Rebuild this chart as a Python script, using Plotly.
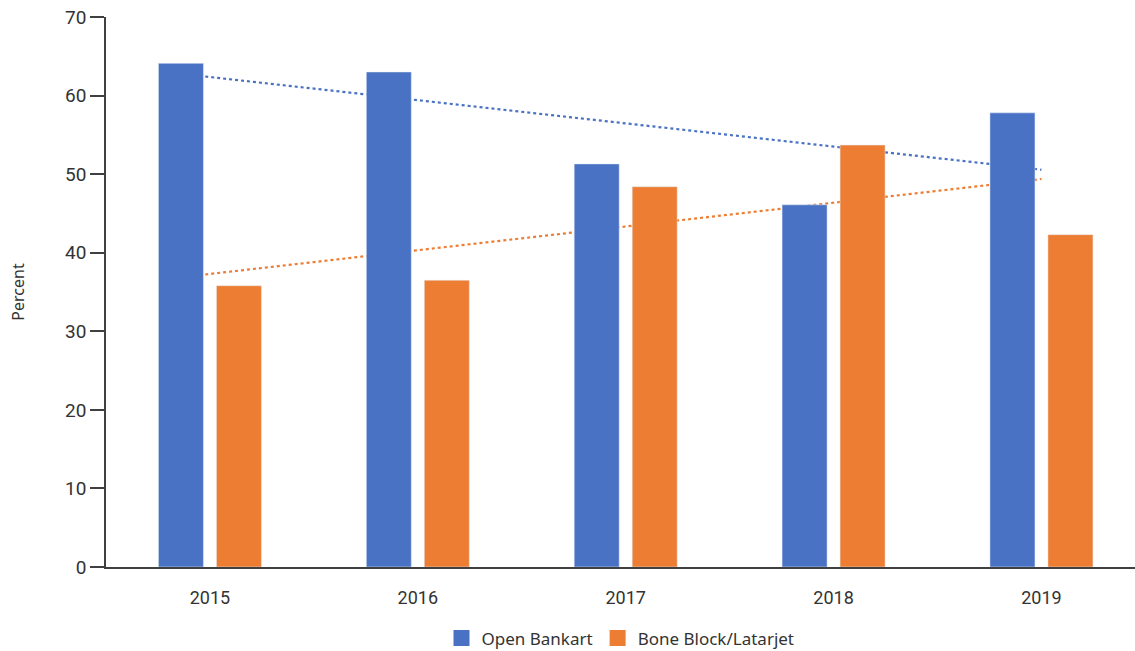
import numpy as np
import plotly.graph_objects as go

years = ["2015", "2016", "2017", "2018", "2019"]
open_bankart = [64.1, 63.0, 51.3, 46.1, 57.8]
bone_block = [35.8, 36.5, 48.4, 53.7, 42.3]
y_ticks = [0, 10, 20, 30, 40, 50, 60, 70]

BLUE = "#4A72C4"
ORANGE = "#ED7D33"

fig = go.Figure()
fig.add_trace(go.Bar(x=years, y=open_bankart, name="Open Bankart", marker_color=BLUE,
                     showlegend=False))
fig.add_trace(go.Bar(x=years, y=bone_block, name="Bone Block/Latarjet", marker_color=ORANGE,
                     showlegend=False))
# legend entries with larger square swatches
for name, col in [("Open Bankart", BLUE), ("Bone Block/Latarjet", ORANGE)]:
    fig.add_trace(go.Scatter(x=[None], y=[None], mode="markers", name=name,
                             marker=dict(symbol="square", size=16, color=col)))

# linear trendlines (drawn below bars)
idx = np.arange(len(years))
for vals, col in [(open_bankart, BLUE), (bone_block, ORANGE)]:
    m, b = np.polyfit(idx, vals, 1)
    fig.add_shape(type="line", xref="x", yref="y",
                  x0=idx[0] - 0.08, y0=b + m * (idx[0] - 0.08),
                  x1=idx[-1], y1=b + m * idx[-1],
                  line=dict(color=col, width=2.2, dash="dot"), layer="below")

fig.update_layout(
    width=1135, height=651,
    margin=dict(l=106, r=0, t=17, b=84, autoexpand=False),
    paper_bgcolor="white", plot_bgcolor="white",
    barmode="group", bargap=0.442, bargroupgap=0.224,
    font=dict(family="Roboto", size=17, color="#333333"),
    showlegend=True,
    legend=dict(orientation="h", x=0.5, xanchor="center", y=-0.097, yanchor="top",
                font=dict(family="Noto Sans", size=17, color="#333333"),
                itemwidth=30, tracegroupgap=0, traceorder="normal"),
    xaxis=dict(type="category", range=[-0.5, 4.45], showline=True, linecolor="#404040",
               linewidth=1.5, ticks="", showgrid=False, zeroline=False, automargin=False,
               tickfont=dict(size=18), ticklabelstandoff=14),
    yaxis=dict(range=[0, 70], tickvals=y_ticks, showline=True, linecolor="#404040",
               linewidth=1.5, ticks="outside", ticklen=14, tickcolor="#404040",
               tickwidth=1.5, showgrid=False, zeroline=False, automargin=False,
               tickfont=dict(size=19),
               title=dict(text="Percent", font=dict(family="Noto Sans", size=16), standoff=36)),
)

fig.write_html("out.html")
